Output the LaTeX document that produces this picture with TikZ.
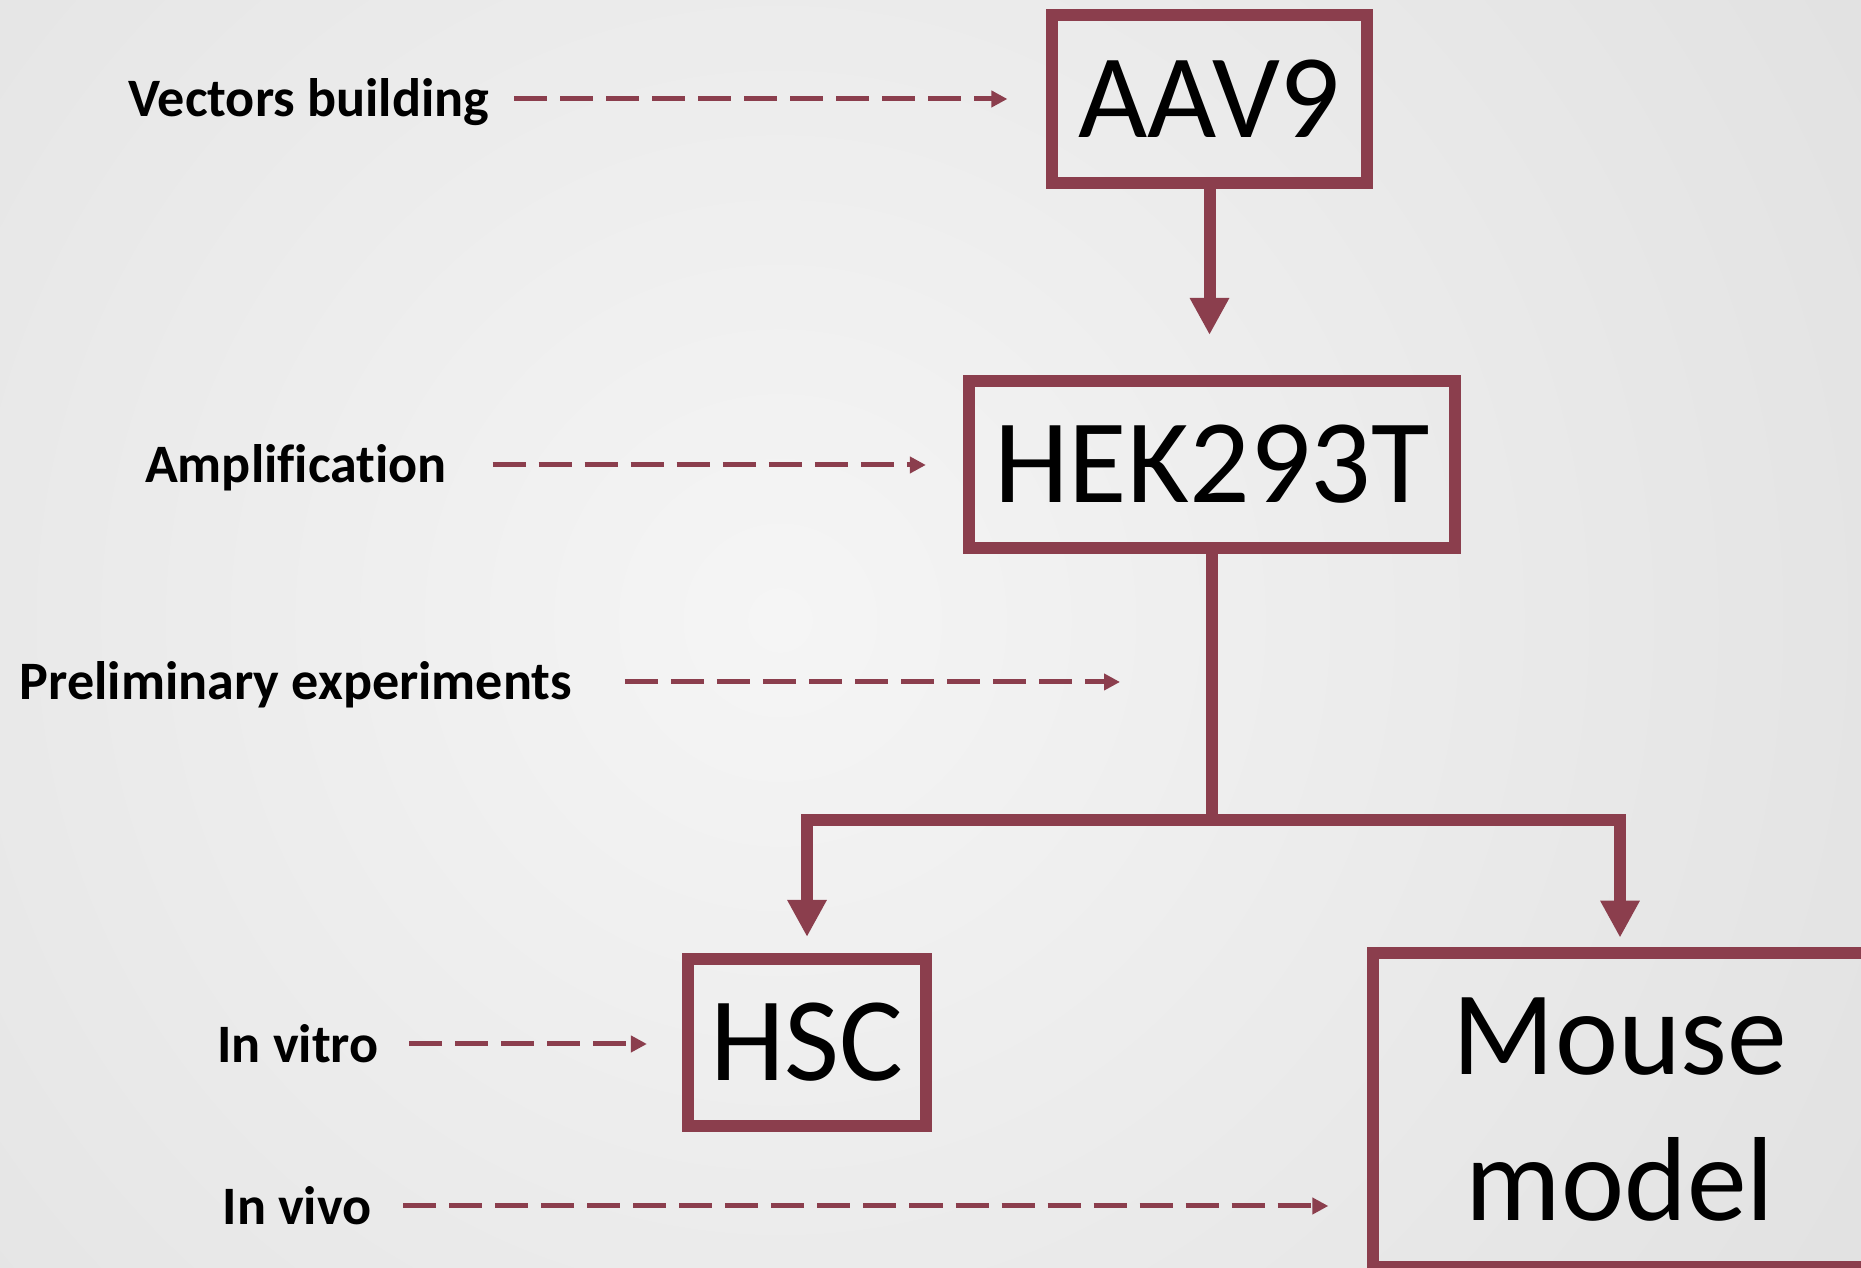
\documentclass[tikz,border=0pt]{standalone}
\usepackage{fontspec}
\setmainfont[Ligatures=NoCommon]{Carlito}
\usepackage{xcolor}
\usetikzlibrary{arrows.meta}
\definecolor{wine}{RGB}{139,62,77}
\definecolor{bglight}{RGB}{245,245,245}
\definecolor{bgdark}{RGB}{211,211,211}

\begin{document}
\begin{tikzpicture}[x=0.01cm,y=-0.01cm,
    box/.style={draw=wine, line width=0.12cm, inner sep=0pt, align=center, font=\fontsize{34}{41.5}\selectfont},
    lab/.style={anchor=base, inner sep=0pt, text height=0.36cm, text depth=0pt, font=\bfseries\fontsize{15.4}{18}\selectfont},
    flow/.style={draw=wine, line width=0.12cm, -{Triangle[length=0.37cm,width=0.37cm]}},
    dasharrow/.style={draw=wine, line width=0.05cm, dash pattern=on 0.33cm off 0.13cm, -{Triangle[length=0.16cm,width=0.16cm]}}]
    \useasboundingbox (0,0) rectangle (1861,1268);
    \clip (0,0) rectangle (1861,1268);
    \shade[inner color=bglight, outer color=bgdark] (780,620) circle (2200);

    \node[box, minimum width=3.14cm, minimum height=1.67cm] (aav) at (1209.5,99) {AAV9};
    \node[box, minimum width=4.86cm, minimum height=1.67cm] (hek) at (1212,464.5) {HEK293T};
    \node[box, minimum width=2.38cm, minimum height=1.67cm] (hsc) at (807,1042.5) {HSC};
    \node[box, minimum width=4.93cm, minimum height=3.145cm] (mm) at (1620,1110) {Mouse\\model};

    \node[lab] (vb) at (309,117) {Vectors building};
    \node[lab] (amp) at (296,483) {Amplification};
    \node[lab] (pe) at (296,700) {Preliminary experiments};
    \node[lab] (ivt) at (298,1062) {In vitro};
    \node[lab] (ivv) at (297,1224) {In vivo};

    \draw[flow, shorten >=0.4cm] (aav.south) -- (aav.south |- hek.north);
    \coordinate (split) at (1212,820);
    \draw[wine, line width=0.12cm] (hek.south) -- (hek.south |- split);
    \draw[flow, shorten >=0.16cm] (hek.south |- split) -| (hsc.north);
    \draw[flow, shorten >=0.09cm] (hek.south |- split) -| (mm.north);

    \coordinate (petip) at (1120,682);
    \draw[dasharrow] ([xshift=0.24cm]vb.east) -- ([xshift=-0.39cm]aav.west |- vb.east);
    \draw[dasharrow] ([xshift=0.45cm]amp.east) -- ([xshift=-0.37cm]hek.west |- amp.east);
    \draw[dasharrow] ([xshift=0.52cm]pe.east) -- (petip |- pe.east);
    \draw[dasharrow] ([xshift=0.30cm]ivt.east) -- ([xshift=-0.35cm]hsc.west |- ivt.east);
    \draw[dasharrow] ([xshift=0.31cm]ivv.east) -- ([xshift=-0.39cm]mm.west |- ivv.east);
\end{tikzpicture}
\end{document}
